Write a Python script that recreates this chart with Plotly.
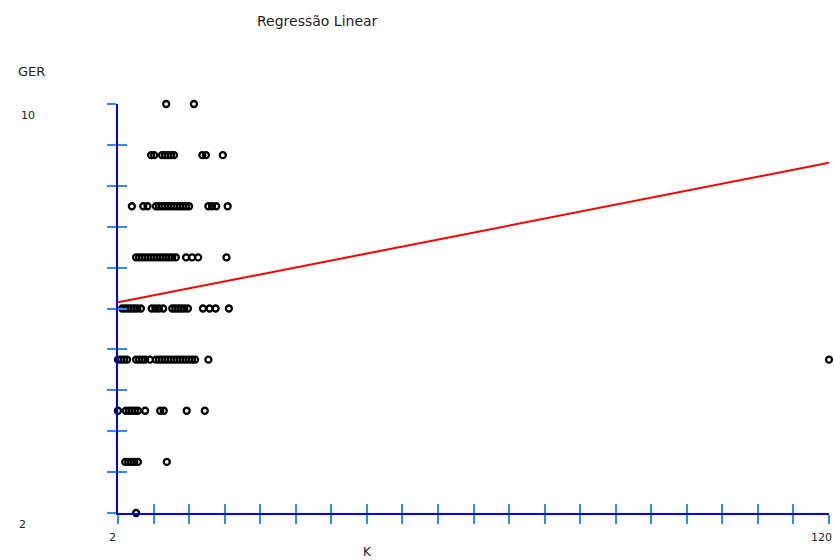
import numpy as np
import plotly.graph_objects as go

# ---- data ----
ger_10 = [10, 14.6]
ger_9 = [7.5, 8, 9.3, 9.8, 10.3, 10.8, 11.3, 16, 16.6, 19.4]
ger_8 = [4.3, 6.2, 6.9, 8.3, 8.8, 9.3, 9.8, 10.3, 10.8, 11.3, 11.8, 12.3,
         12.8, 13.3, 13.8, 17, 17.6, 18.3, 20.2]
ger_7 = [5, 5.5, 6, 6.5, 7, 7.5, 8, 8.5, 9, 9.5, 10, 10.5, 11, 11.6,
         13.3, 14.3, 15.3, 20]
ger_6 = [2.7, 3.2, 3.7, 4.2, 4.7, 5.2, 5.8, 7.6, 8.2, 8.8, 9.5, 11, 11.5,
         12, 12.5, 13, 13.6, 16.1, 17.2, 18.2, 20.4]
ger_5 = [2, 2.5, 3, 3.5, 5, 5.5, 6, 6.5, 7.3, 8.3, 8.8, 9.3, 9.8, 10.3,
         10.8, 11.3, 11.8, 12.3, 12.8, 13.3, 13.8, 14.3, 14.8, 17, 120]
ger_4 = [2, 3.3, 3.8, 4.3, 4.8, 5.3, 6.5, 9, 9.6, 13.4, 16.4]
ger_3 = [3.2, 3.7, 4.2, 4.7, 5.3, 10.1]
ger_2 = [5]

rows = {10: ger_10, 9: ger_9, 8: ger_8, 7: ger_7, 6: ger_6,
        5: ger_5, 4: ger_4, 3: ger_3, 2: ger_2}

# regression line endpoints
line_k = [2, 120]
line_ger = [6.12, 8.85]

x_range = [2, 120]
y_range = [2, 10]
x_tick_labels = ["2", "120"]
y_tick_labels = ["2", "10"]

x_tickvals = list(np.linspace(x_range[0], x_range[1], 21))
y_tickvals = list(np.linspace(y_range[0], y_range[1], 11))

k_vals, g_vals = [], []
for g, ks in rows.items():
    k_vals += ks
    g_vals += [g] * len(ks)

fig = go.Figure()
fig.add_trace(go.Scatter(
    x=k_vals, y=g_vals, mode="markers",
    marker=dict(symbol="circle-open", size=6, color="black",
                line=dict(color="black", width=2.3)),
    cliponaxis=False, showlegend=False, hoverinfo="x+y"))
fig.add_trace(go.Scatter(
    x=line_k, y=line_ger, mode="lines",
    line=dict(color="#ff0000", width=2),
    cliponaxis=False, showlegend=False))
# invisible trace to activate overlay axes
fig.add_trace(go.Scatter(x=x_range, y=y_range, xaxis="x2", yaxis="y2",
                         mode="markers", marker=dict(opacity=0),
                         showlegend=False, hoverinfo="skip"))

tick_col = "#2a8cff"
axis_col = "#0000ff"
common = dict(showgrid=False, zeroline=False, showticklabels=False,
              tickmode="array", ticklen=9, tickwidth=2, tickcolor=tick_col)

fig.update_layout(
    width=834, height=560,
    margin=dict(l=118, r=5, t=104, b=47),
    plot_bgcolor="white", paper_bgcolor="white",
    font=dict(family="DejaVu Sans, Liberation Sans, sans-serif", size=11,
              color="#222222"),
    xaxis=dict(range=x_range, tickvals=x_tickvals, ticks="outside",
               showline=True, linecolor=axis_col, linewidth=2, **common),
    yaxis=dict(range=y_range, tickvals=y_tickvals, ticks="outside",
               showline=True, linecolor=axis_col, linewidth=2, **common),
    xaxis2=dict(range=x_range, tickvals=x_tickvals, ticks="inside",
                overlaying="x", anchor="y2", side="bottom",
                showline=False, **common),
    yaxis2=dict(range=y_range, tickvals=y_tickvals, ticks="inside",
                overlaying="y", anchor="x2", side="left",
                showline=False, **common),
)

def px_x(p):
    return (p - 118) / 711.0

def px_y(p):
    return (513 - p) / 409.0

c = dict(showarrow=False, xanchor="center", yanchor="middle")
ann = []
ann.append(dict(text="Regressão Linear", xref="paper", yref="paper",
                x=px_x(317), y=px_y(21), font=dict(size=14), **c))
ann.append(dict(text="GER", xref="paper", yref="paper",
                x=px_x(31), y=px_y(71), font=dict(size=13), **c))
ann.append(dict(text="K", xref="paper", yref="paper",
                x=px_x(367), y=px_y(552), font=dict(size=12), **c))
# tick labels
ann.append(dict(text=y_tick_labels[1], xref="paper", yref="y",
                x=px_x(28), y=y_range[1], yshift=-11, **c))
ann.append(dict(text=y_tick_labels[0], xref="paper", yref="y",
                x=px_x(22), y=y_range[0], yshift=-11, **c))
ann.append(dict(text=x_tick_labels[0], xref="x", yref="paper",
                x=x_range[0], xshift=-6, y=px_y(537), **c))
ann.append(dict(text=x_tick_labels[1], xref="x", yref="paper",
                x=x_range[1], xshift=-8, y=px_y(537), **c))
fig.update_layout(annotations=ann)

fig.write_html("out.html")
